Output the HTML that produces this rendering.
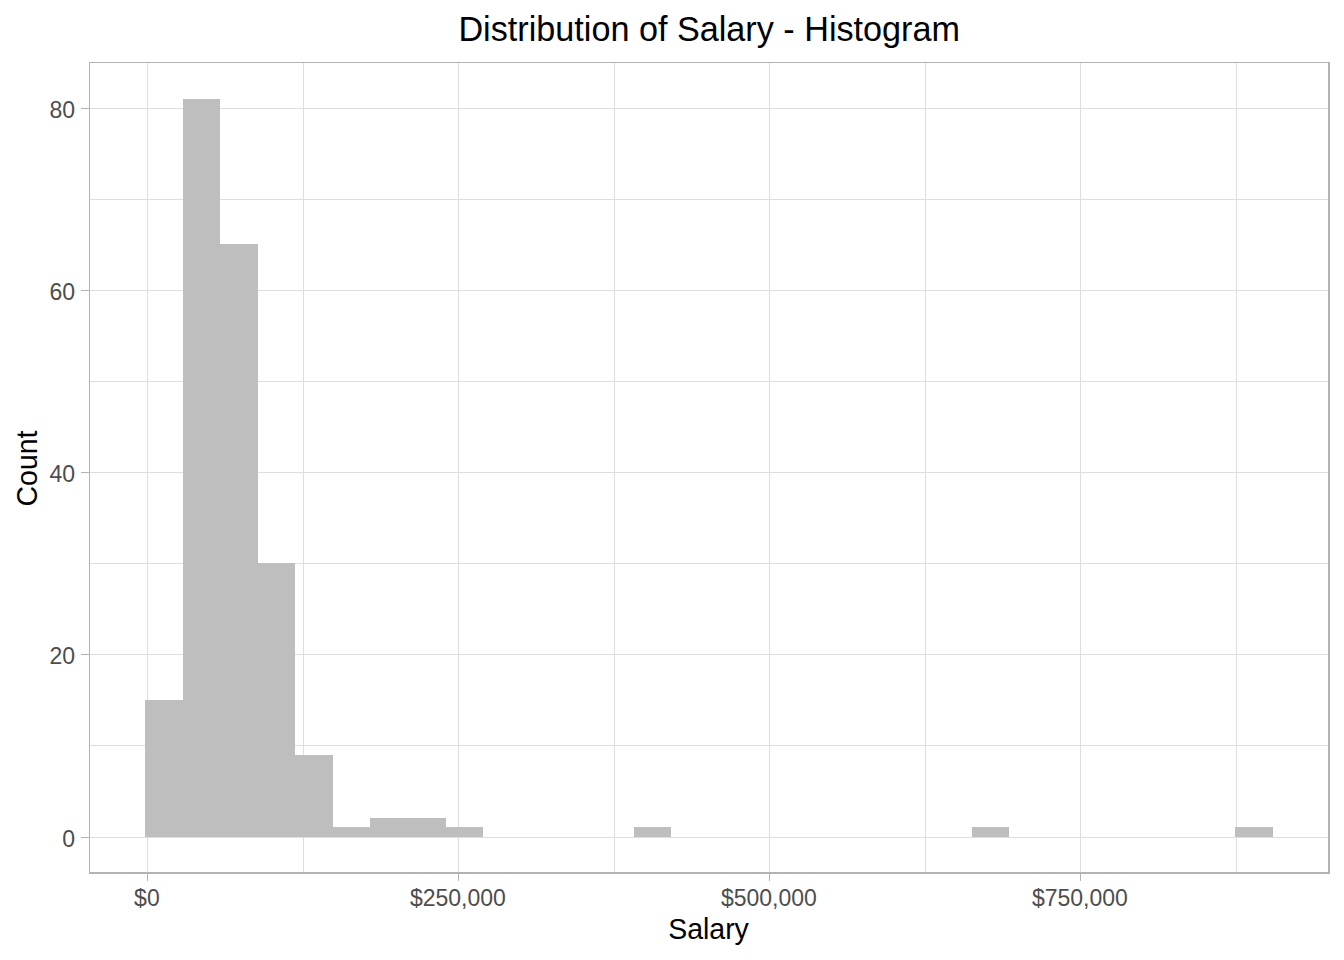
<!DOCTYPE html><html><head><meta charset="utf-8"><style>html,body{margin:0;padding:0;background:#fff;width:1344px;height:960px;overflow:hidden}svg{display:block}text{font-family:"Liberation Sans",sans-serif}</style></head><body>
<svg width="1344" height="960" viewBox="0 0 1344 960">
<rect x="0" y="0" width="1344" height="960" fill="#fff"/>
<rect x="303" y="62" width="1" height="811" fill="#DEDEDE"/>
<rect x="614" y="62" width="1" height="811" fill="#DEDEDE"/>
<rect x="925" y="62" width="1" height="811" fill="#DEDEDE"/>
<rect x="1236" y="62" width="1" height="811" fill="#DEDEDE"/>
<rect x="89" y="745" width="1240" height="1" fill="#DEDEDE"/>
<rect x="89" y="563" width="1240" height="1" fill="#DEDEDE"/>
<rect x="89" y="381" width="1240" height="1" fill="#DEDEDE"/>
<rect x="89" y="199" width="1240" height="1" fill="#DEDEDE"/>
<rect x="147" y="62" width="1" height="811" fill="#DEDEDE"/>
<rect x="458" y="62" width="1" height="811" fill="#DEDEDE"/>
<rect x="769" y="62" width="1" height="811" fill="#DEDEDE"/>
<rect x="1080" y="62" width="1" height="811" fill="#DEDEDE"/>
<rect x="89" y="837" width="1240" height="1" fill="#DEDEDE"/>
<rect x="89" y="654" width="1240" height="1" fill="#DEDEDE"/>
<rect x="89" y="472" width="1240" height="1" fill="#DEDEDE"/>
<rect x="89" y="290" width="1240" height="1" fill="#DEDEDE"/>
<rect x="89" y="108" width="1240" height="1" fill="#DEDEDE"/>
<path d="M145,837 L145,700 L183,700 L183,99 L220,99 L220,244 L258,244 L258,563 L295,563 L295,755 L333,755 L333,827 L370,827 L370,818 L408,818 L408,818 L446,818 L446,827 L483,827 L483,837 Z" fill="#BEBEBE"/>
<path d="M634,837 L634,827 L671,827 L671,837 Z" fill="#BEBEBE"/>
<path d="M972,837 L972,827 L1009,827 L1009,837 Z" fill="#BEBEBE"/>
<path d="M1235,837 L1235,827 L1273,827 L1273,837 Z" fill="#BEBEBE"/>
<rect x="89" y="62" width="1240" height="1" fill="#B3B3B3"/>
<rect x="89" y="62" width="1" height="811" fill="#B3B3B3"/>
<rect x="1328" y="62" width="2" height="812" fill="#B3B3B3"/>
<rect x="89" y="872" width="1241" height="2" fill="#B3B3B3"/>
<rect x="81" y="837" width="8" height="1" fill="#B3B3B3"/>
<rect x="81" y="654" width="8" height="1" fill="#B3B3B3"/>
<rect x="81" y="472" width="8" height="1" fill="#B3B3B3"/>
<rect x="81" y="290" width="8" height="1" fill="#B3B3B3"/>
<rect x="81" y="108" width="8" height="1" fill="#B3B3B3"/>
<rect x="147" y="874" width="1" height="7" fill="#B3B3B3"/>
<rect x="458" y="874" width="1" height="7" fill="#B3B3B3"/>
<rect x="769" y="874" width="1" height="7" fill="#B3B3B3"/>
<rect x="1080" y="874" width="1" height="7" fill="#B3B3B3"/>
<text x="75" y="847" font-size="23" fill="#4D4D4D" text-anchor="end">0</text>
<text x="75" y="664" font-size="23" fill="#4D4D4D" text-anchor="end">20</text>
<text x="75" y="482" font-size="23" fill="#4D4D4D" text-anchor="end">40</text>
<text x="75" y="300" font-size="23" fill="#4D4D4D" text-anchor="end">60</text>
<text x="75" y="118" font-size="23" fill="#4D4D4D" text-anchor="end">80</text>
<text x="146.9" y="905.8" font-size="23" fill="#4D4D4D" text-anchor="middle">$0</text>
<text x="457.9" y="905.8" font-size="23" fill="#4D4D4D" text-anchor="middle">$250,000</text>
<text x="768.9" y="905.8" font-size="23" fill="#4D4D4D" text-anchor="middle">$500,000</text>
<text x="1079.9" y="905.8" font-size="23" fill="#4D4D4D" text-anchor="middle">$750,000</text>
<text transform="translate(709.2,40.8) scale(1,1.03)" font-size="34.2" fill="#000" text-anchor="middle">Distribution of Salary - Histogram</text>
<text transform="translate(708.5,939.4) scale(1,1.045)" font-size="28.5" fill="#000" text-anchor="middle">Salary</text>
<text transform="translate(36.7,468.5) rotate(-90) scale(1,1.045)" x="0" y="0" font-size="28.5" fill="#000" text-anchor="middle">Count</text>
</svg></body></html>
